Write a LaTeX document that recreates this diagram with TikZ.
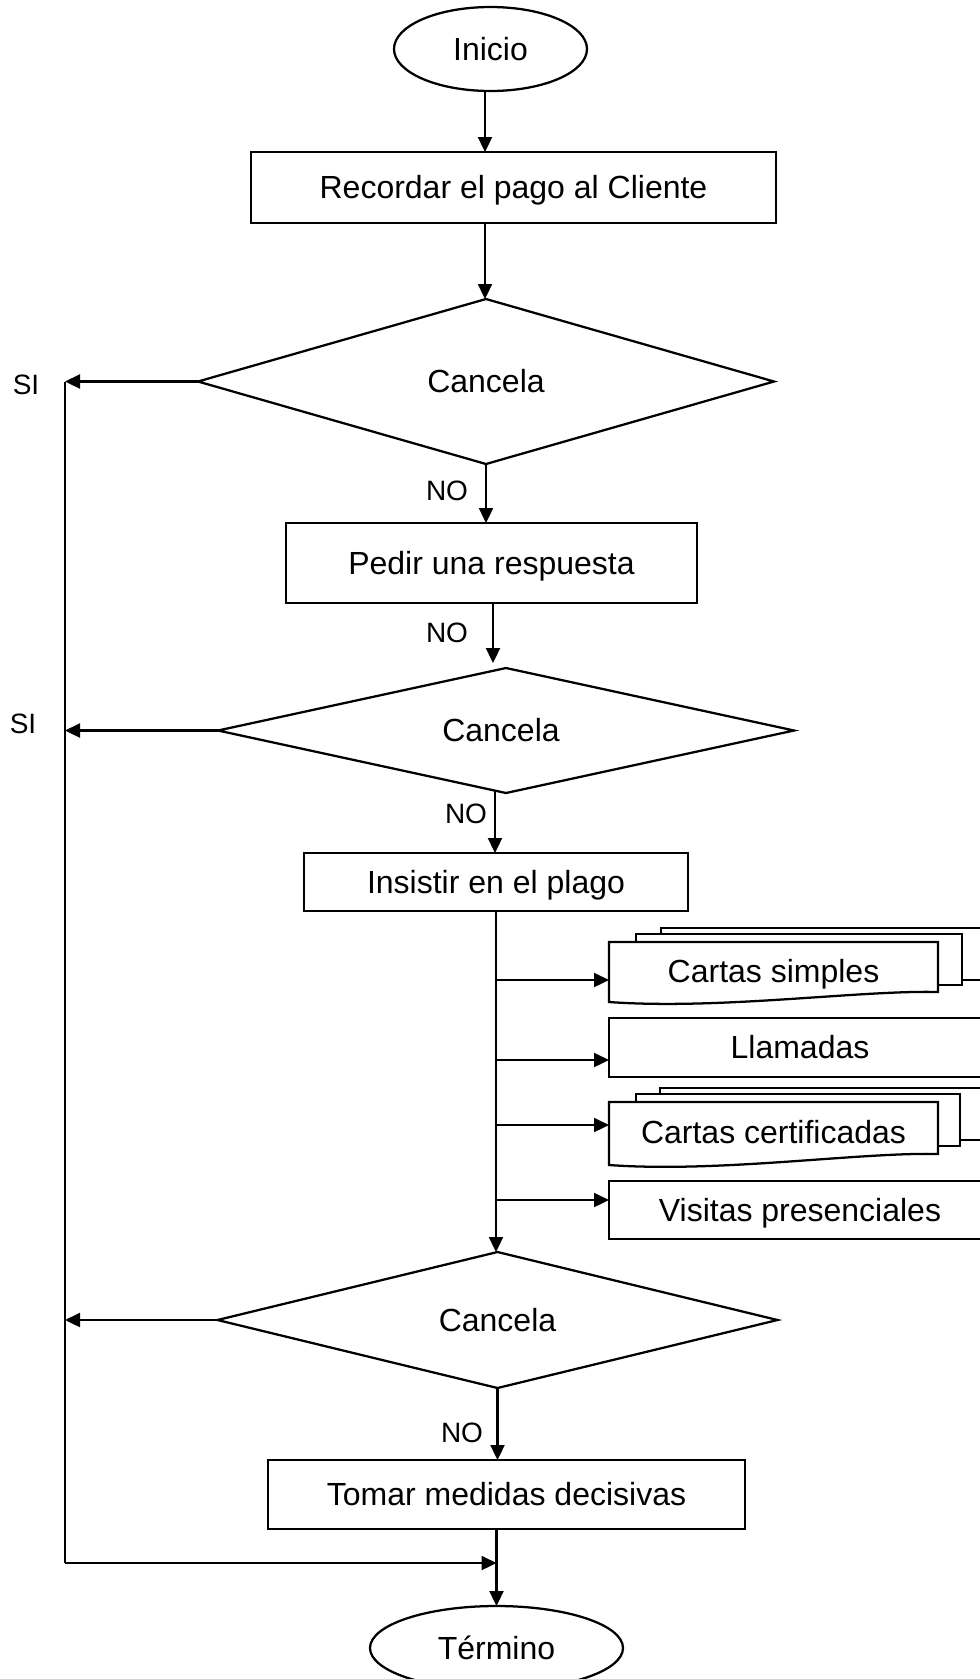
\documentclass[tikz,border=0pt]{standalone}
\usepackage{fontspec}
\setmainfont{Liberation Sans}
\usetikzlibrary{shapes.geometric,arrows.meta}
\newcommand\mainfs{\fontsize{24}{29}\selectfont}
\newcommand\labfs{\fontsize{21}{25}\selectfont}
\begin{document}
\begin{tikzpicture}[x=0.75pt,y=-0.75pt,
  ln/.style={line width=1.7pt},
  arr/.style={ln,-{Triangle[length=11.25pt,width=10.5pt]}},
  sz/.style 2 args={minimum width=#1*0.75pt,minimum height=#2*0.75pt},
  base/.style={inner sep=0pt,outer sep=0pt,text height=17.2pt,text depth=0pt},
  box/.style={base,draw,ln,rectangle,fill=white,font=\mainfs},
  dec/.style={base,draw,ln,diamond,aspect=4,font=\mainfs},
  term/.style={base,draw,ln,ellipse,font=\mainfs},
  lab/.style={inner sep=0pt,outer sep=0pt,text height=15pt,text depth=0pt,font=\labfs},
  txt/.style={base,font=\mainfs}]
\useasboundingbox (0,0) rectangle (980,1679);
\clip (0,0) rectangle (980,1679);

% main nodes
\node[term,sz={193}{84}] (ini) at (490.5,49) {Inicio};
\node[box,sz={525}{71}] (b1) at (513.5,187.5) {Recordar el pago al Cliente};
\node[dec,sz={576}{165}] (d1) at (486,381.5) {Cancela};
\node[box,sz={411}{80}] (b2) at (491.5,563) {Pedir una respuesta};
\node[dec,sz={576}{125}] (d2) at (506,730.5) {\kern-7.5pt Cancela};
\node[box,sz={384}{58}] (b3) at (496,882) {Insistir en el plago};
\node[dec,sz={560}{136}] (d3) at (497.5,1320) {Cancela};
\node[box,sz={477}{69}] (b4) at (506.5,1494.5) {Tomar medidas decisivas};
\node[term,sz={253}{84}] (fin) at (496.5,1648) {Término};

% labels
\node[lab] (si1) at (26,384) {SI};
\node[lab] (si2) at (23,723) {SI};
\node[lab] (no1) at (447,490) {NO};
\node[lab] (no2) at (447,632) {NO};
\node[lab] (no3) at (466,813) {NO};
\node[lab] (no4) at (462,1432) {NO};

% document stack: Cartas simples
\filldraw[ln,fill=white] (661,928) rectangle (1000,980);
\filldraw[ln,fill=white] (636,934) rectangle (962,985);
\filldraw[ln,fill=white] (609,942) -- (938,942) -- (938,992)
  .. controls (860,990) and (720,1010) .. (609,1002) -- cycle;
\node[txt,sz={329}{10}] (cs) at (773.5,971) {Cartas simples};

% Llamadas
\node[box,sz={382}{59}] (ll) at (800,1047.5) {Llamadas};

% document stack: Cartas certificadas
\filldraw[ln,fill=white] (660,1088) rectangle (1000,1140);
\filldraw[ln,fill=white] (636,1094) rectangle (960,1146);
\filldraw[ln,fill=white] (609,1102) -- (938,1102) -- (938,1154)
  .. controls (860,1152) and (720,1173) .. (609,1165) -- cycle;
\node[txt,sz={329}{10}] (cc) at (773.5,1132) {Cartas certificadas};

% Visitas presenciales
\node[box,sz={382}{58}] (vp) at (800,1210) {Visitas presenciales};

% helper coordinates
\coordinate (cA) at (485,0);
\coordinate (e2) at (493,663);
\coordinate (s3) at (495,791);
\coordinate (br1) at (496,980);
\coordinate (br2) at (496,1060);
\coordinate (br3) at (496,1125);
\coordinate (br4) at (496,1200);
\coordinate (busT) at (65,382);
\coordinate (busB) at (65,1563);

% main flow
\draw[arr] (ini.south -| cA) -- (b1.north -| cA);
\draw[arr] (b1.south -| cA) -- (d1.north -| cA);
\draw[arr] (d1.south) -- (d1.south |- b2.north);
\draw[arr] (b2.south -| e2) -- (e2);
\draw[arr] (s3) -- (s3 |- b3.north);
\draw[arr] (b3.south) -- (b3.south |- d3.north);
\draw[arr] (d3.south) -- (d3.south |- b4.north);
\draw[arr] (fin.north |- b4.south) -- (fin.north);

% branches
\draw[arr] (br1) -- (br1 -| cs.west);
\draw[arr] (br2) -- (br2 -| ll.west);
\draw[arr] (br3) -- (br3 -| cc.west);
\draw[arr] (br4) -- (br4 -| vp.west);

% SI branches and left bus
\draw[arr] (d1.west) -- (d1.west -| busT);
\draw[arr] (d2.west) -- (d2.west -| busT);
\draw[arr] (d3.west) -- (d3.west -| busT);
\draw[line width=0.8pt] (busT) -- (busB);
\draw[arr] (busB) -- (busB -| fin.north);
\end{tikzpicture}
\end{document}
